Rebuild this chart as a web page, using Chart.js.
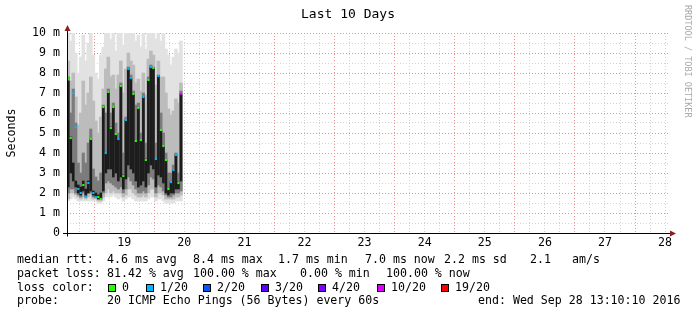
<!DOCTYPE html>
<html>
<head>
<meta charset="utf-8">
<script src="https://cdn.jsdelivr.net/npm/chart.js@4.4.0/dist/chart.umd.min.js"></script>
<style>
  body { margin: 0; background: #fff; }
  canvas { display: block; }
</style>
</head>
<body>
<canvas id="chart" width="697" height="315"></canvas>
<script>
// SmokePing "Last 10 Days" graph, redrawn with Chart.js

const MONO = "'DejaVu Sans Mono', monospace";

// time axis is in days of September; window is Sep 18 13:10 .. Sep 28 13:10
const startDay = 18 + 13 / 24 + 10 / 1440;
const endDay = startDay + 10;
const dayLabels = ['19', '20', '21', '22', '23', '24', '25', '26', '27', '28'];

// one smoke column per hour after the window start
const hours = [0.5, 1.5, 2.5, 3.5, 4.5, 5.5, 6.5, 7.5, 8.5, 9.5, 10.5, 11.5, 12.5, 13.5, 14.5, 15.5,
  16.5, 17.5, 18.5, 19.5, 20.5, 21.5, 22.5, 23.5, 24.5, 25.5, 26.5, 27.5, 28.5, 29.5, 30.5, 31.5,
  32.5, 33.5, 34.5, 35.5, 36.5, 37.5, 38.5, 39.5, 40.5, 41.5, 42.5, 43.5, 44.5, 45.5];

// smoke bands in ms (outer = lightest, core = darkest)
const outerLo = [1.6, 1.7, 1.8, 1.7, 1.6, 1.6, 1.6, 1.6, 1.6, 1.6, 1.6, 1.6, 1.5, 1.5, 1.6, 1.8,
  1.8, 1.8, 1.9, 1.8, 1.7, 1.8, 1.6, 1.7, 1.8, 1.8, 1.7, 1.6, 1.6, 1.6, 1.6, 1.6,
  1.7, 1.8, 1.8, 1.6, 1.7, 1.7, 1.6, 1.5, 1.5, 1.5, 1.5, 1.6, 1.6, 1.6];
const outerHi = [10.5, 9.6, 10.2, 9.0, 8.0, 8.8, 9.9, 8.6, 9.5, 10.1, 8.9, 8.0, 7.7, 8.9, 9.3, 10.3,
  10.5, 9.7, 10.0, 9.1, 10.2, 10.4, 9.4, 10.5, 10.5, 10.1, 10.5, 9.6, 9.9, 9.3, 10.4, 9.2,
  10.5, 10.5, 10.2, 9.7, 10.5, 9.6, 10.1, 9.2, 8.9, 8.4, 8.8, 9.2, 9.0, 9.6];
const midLo = [1.7, 2.0, 2.0, 1.9, 1.8, 1.7, 1.8, 1.7, 1.8, 1.9, 1.7, 1.7, 1.6, 1.6, 1.8, 2.0,
  2.2, 2.0, 2.1, 2.0, 2.0, 2.0, 1.8, 1.9, 2.2, 2.2, 2.0, 1.9, 1.8, 1.8, 1.9, 1.8,
  2.0, 2.2, 2.2, 1.8, 2.0, 2.0, 1.9, 1.7, 1.7, 1.7, 1.7, 1.8, 1.8, 1.9];
const midHi = [8.6, 7.6, 8.0, 6.8, 5.4, 6.0, 7.6, 6.4, 7.0, 7.8, 6.6, 5.6, 5.0, 5.8, 7.2, 8.2,
  8.8, 7.8, 7.9, 7.2, 7.9, 8.6, 7.0, 8.2, 9.0, 8.6, 8.4, 7.5, 7.7, 7.1, 8.0, 6.9,
  8.7, 9.1, 8.9, 7.4, 8.6, 7.8, 7.8, 7.0, 6.2, 5.9, 6.1, 6.7, 6.5, 7.5];
const innerLo = [2.0, 2.2, 2.2, 2.0, 1.9, 1.8, 2.0, 1.8, 2.0, 2.0, 1.8, 1.8, 1.7, 1.7, 2.0, 2.5,
  2.6, 2.5, 2.4, 2.3, 2.2, 2.3, 2.0, 2.2, 2.8, 2.6, 2.4, 2.2, 2.0, 2.0, 2.1, 2.0,
  2.4, 2.8, 2.7, 2.0, 2.4, 2.3, 2.1, 1.9, 1.8, 1.8, 1.9, 2.0, 2.0, 2.1];
const innerHi = [7.8, 6.0, 7.2, 5.5, 3.5, 3.0, 4.0, 3.5, 4.5, 5.2, 3.2, 2.8, 2.6, 3.0, 6.4, 6.0,
  7.2, 6.0, 6.5, 5.5, 5.0, 7.5, 4.0, 5.8, 8.3, 7.9, 7.1, 6.4, 6.5, 5.0, 7.0, 4.5,
  7.8, 8.4, 8.3, 4.5, 7.9, 6.0, 5.0, 4.0, 3.0, 3.0, 3.4, 4.0, 3.0, 7.1];
const coreLo = [2.3, 3.0, 2.6, 2.3, 2.0, 1.9, 2.1, 1.9, 2.0, 2.1, 1.9, 1.8, 1.7, 1.7, 2.1, 3.0,
  3.2, 3.2, 2.8, 3.0, 2.6, 2.8, 2.2, 2.7, 3.4, 3.2, 3.0, 2.6, 2.3, 2.4, 2.6, 2.3,
  3.0, 3.4, 3.2, 2.3, 2.9, 2.8, 2.5, 2.0, 1.9, 2.0, 2.0, 2.2, 2.2, 2.6];
const coreHi = [7.6, 4.8, 3.5, 2.6, 2.4, 2.3, 2.6, 2.2, 2.6, 4.7, 2.1, 2.0, 1.9, 2.0, 6.3, 4.0,
  7.05, 5.3, 6.3, 4.9, 4.7, 7.35, 2.9, 5.65, 8.2, 7.75, 6.95, 4.6, 6.25, 4.65, 6.8, 3.7,
  7.65, 8.3, 8.25, 3.7, 7.85, 5.15, 4.35, 3.65, 2.2, 2.55, 3.15, 3.9, 2.55, 6.95];

// median rtt per column and its loss class (index into lossLabels)
const median = [7.7, 4.75, 7.0, 5.3, 2.2, 2.0, 2.4, 1.8, 2.5, 4.7, 2.0, 1.8, 1.8, 1.7, 6.3, 4.0,
  7.05, 5.25, 6.3, 4.95, 4.7, 7.35, 2.85, 5.65, 8.2, 7.75, 6.95, 4.6, 6.25, 4.65, 6.8, 3.65,
  7.65, 8.3, 8.25, 3.7, 7.85, 5.15, 4.35, 3.65, 2.2, 2.55, 3.15, 3.9, 2.5, 6.95];
const lossIdx = [0, 0, 1, 1, 1, 1, 0, 1, 1, 0, 1, 1, 0, 0, 0, 1,
  0, 0, 0, 0, 1, 0, 0, 1, 1, 1, 0, 0, 0, 0, 1, 0,
  0, 1, 0, 1, 1, 0, 0, 0, 0, 1, 1, 1, 0, 5];

const lossLabels = ['0', '1/20', '2/20', '3/20', '4/20', '10/20', '19/20'];
const lossColors = ['#26ff00', '#00b8ff', '#0059ff', '#5e00ff', '#7e00ff', '#dd00ff', '#ff0000'];

const cols = hours.map(h => startDay + h / 24);

function band(lo, hi, color, width, order) {
  return {
    type: 'bar',
    data: cols.map((x, i) => ({ x: x, y: [lo[i], hi[i]] })),
    backgroundColor: color,
    borderWidth: 0,
    barThickness: width,
    grouped: false,
    order: order
  };
}

const MAJOR = '#e49393';
const MINOR = '#d2d2d2';

const rrdPlugin = {
  id: 'rrd',
  afterDatasetsDraw(chart) {
    const c = chart.ctx;
    const a = chart.chartArea;
    const y0 = Math.round(chart.scales.y.getPixelForValue(0)) + 0.5;
    const x0 = a.left + 0.5;
    c.save();
    c.strokeStyle = '#000';
    c.lineWidth = 1;
    c.beginPath();
    c.moveTo(a.left - 4, y0);
    c.lineTo(a.right + 3, y0);
    c.moveTo(x0, y0 + 3);
    c.lineTo(x0, a.top - 3);
    c.stroke();
    c.fillStyle = '#8f1d1d';
    c.beginPath();
    c.moveTo(x0 - 3, a.top - 2);
    c.lineTo(x0 + 3, a.top - 2);
    c.lineTo(x0, a.top - 8);
    c.closePath();
    c.fill();
    c.beginPath();
    c.moveTo(a.right + 2, y0 - 3);
    c.lineTo(a.right + 2, y0 + 3);
    c.lineTo(a.right + 8, y0);
    c.closePath();
    c.fill();
    c.restore();
  },
  afterDraw(chart) {
    const c = chart.ctx;
    c.save();
    c.fillStyle = '#000';
    c.textBaseline = 'alphabetic';

    c.font = '13px ' + MONO;
    c.textAlign = 'center';
    c.fillText('Last 10 Days', 348, 18);

    c.font = '11.6px ' + MONO;
    c.save();
    c.translate(15, 133);
    c.rotate(-Math.PI / 2);
    c.fillText('Seconds', 0, 0);
    c.restore();

    c.save();
    c.fillStyle = '#a8a8a8';
    c.font = '8.5px ' + MONO;
    c.textAlign = 'left';
    c.translate(685, 5);
    c.rotate(Math.PI / 2);
    c.fillText('RRDTOOL / TOBI OETIKER', 0, 0);
    c.restore();

    c.textAlign = 'left';
    const rows = [
      [263, [[17, 'median rtt:'], [107, '4.6 ms avg'], [193, '8.4 ms max'], [278, '1.7 ms min'],
        [365, '7.0 ms now'], [444, '2.2 ms sd'], [530, '2.1'], [572, 'am/s']]],
      [277, [[17, 'packet loss:'], [107, '81.42 % avg'], [193, '100.00 % max'], [300, '0.00 % min'],
        [386, '100.00 % now']]],
      [290.5, [[17, 'loss color:']]],
      [304, [[17, 'probe:'], [107, '20 ICMP Echo Pings (56 Bytes) every 60s'],
        [478, 'end: Wed Sep 28 13:10:10 2016']]]
    ];
    rows.forEach(([by, items]) => items.forEach(([x, t]) => c.fillText(t, x, by)));

    const boxX = [108, 146, 203, 261, 318, 377, 441];
    lossLabels.forEach((lab, i) => {
      c.fillStyle = lossColors[i];
      c.fillRect(boxX[i], 284, 8, 8);
      c.strokeStyle = '#000';
      c.lineWidth = 1;
      c.strokeRect(boxX[i] + 0.5, 284.5, 7, 7);
      c.fillStyle = '#000';
      c.fillText(lab, boxX[i] + 14, 290.5);
    });
    c.restore();
  }
};

const ctx = document.getElementById('chart').getContext('2d');
const chart = new Chart(ctx, {
  type: 'bar',
  data: {
    datasets: [
      {
        type: 'scatter',
        data: cols.map((x, i) => ({ x: x, y: median[i] })),
        pointStyle: 'rect',
        pointRadius: 1.5,
        borderWidth: 0,
        backgroundColor: lossIdx.map(k => lossColors[k]),
        order: 0
      },
      band(coreLo, coreHi, '#1c1c1c', 2, 1),
      band(innerLo, innerHi, '#7c7c7c', 2.5, 2),
      band(midLo, midHi, '#bcbcbc', 3, 3),
      band(outerLo, outerHi, '#e2e2e2', 3, 4)
    ]
  },
  options: {
    responsive: false,
    devicePixelRatio: 1,
    animation: false,
    layout: { padding: { left: 0, right: 29, top: 33, bottom: 0 } },
    plugins: { legend: { display: false }, tooltip: { enabled: false }, title: { display: false } },
    scales: {
      x: {
        type: 'linear',
        min: startDay,
        max: endDay,
        offset: false,
        afterFit: s => { s.height = 82; },
        afterBuildTicks: s => {
          const t = [];
          dayLabels.forEach(d => {
            const day = Number(d);
            t.push({ value: day - 0.25 }, { value: day }, { value: day + 0.25 }, { value: day + 0.5 });
          });
          s.ticks = t;
        },
        grid: {
          offset: false,
          drawTicks: false,
          color: c => (c.tick && c.tick.value % 1 === 0) ? MAJOR : MINOR
        },
        border: { display: false, dash: [1, 2] },
        ticks: {
          autoSkip: false,
          maxRotation: 0,
          padding: 3,
          color: '#000',
          font: { family: MONO, size: 11.6 },
          callback: v => (v % 1 === 0.5) ? String(Math.floor(v)) : ''
        }
      },
      y: {
        type: 'linear',
        min: 0,
        max: 10,
        afterFit: s => { s.width = 67; },
        grid: {
          drawTicks: false,
          color: c => (c.tick && c.tick.value % 1 === 0) ? MAJOR : MINOR
        },
        border: { display: false, dash: [1, 2] },
        ticks: {
          stepSize: 0.5,
          autoSkip: false,
          padding: 7,
          color: '#000',
          font: { family: MONO, size: 11.6 },
          callback: v => (v % 1 !== 0) ? '' : (v === 0 ? '0' : v + ' m')
        }
      }
    }
  },
  plugins: [rrdPlugin]
});
</script>
</body>
</html>
